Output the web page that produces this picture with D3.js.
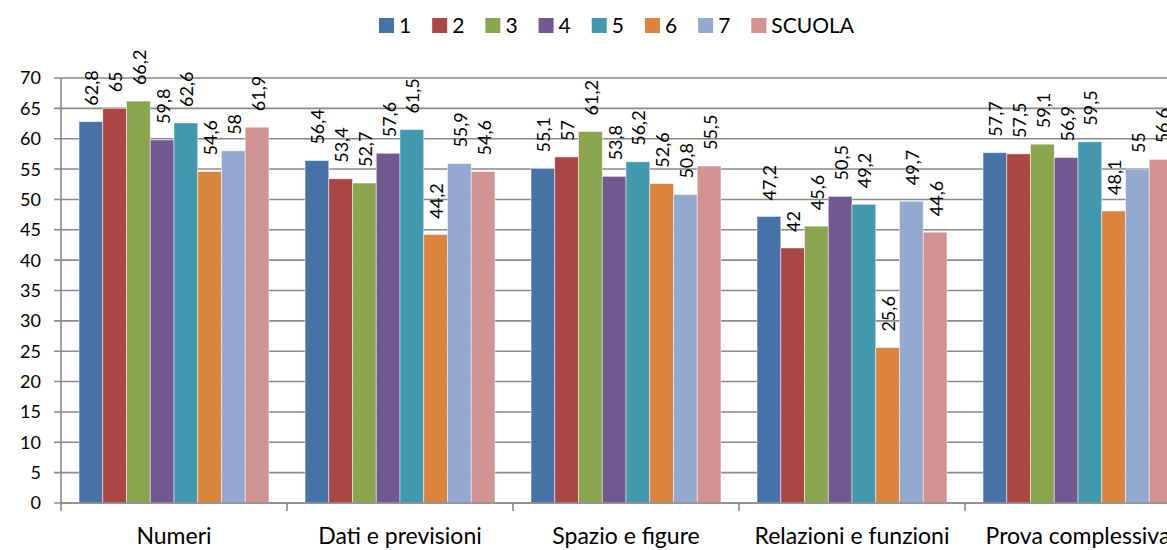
<!DOCTYPE html>
<html>
<head>
<meta charset="utf-8">
<script src="https://cdn.jsdelivr.net/npm/d3@7"></script>
<style>
    body { margin: 0; background: #fff; }
    svg text { font-family: Lato, "Open Sans", sans-serif; fill: #000; }
</style>
</head>
<body>
<div id="chart"></div>
<script>

// categories and series
let categories = ["Numeri", "Dati e previsioni", "Spazio e figure", "Relazioni e funzioni", "Prova complessiva"];
let seriesNames = ["1", "2", "3", "4", "5", "6", "7", "SCUOLA"];
let seriesColors = ["#4572A7", "#AA4643", "#89A54E", "#71588F", "#4198AF", "#DB843D", "#93A9CF", "#D19392"];

let s1 = [62.8, 56.4, 55.1, 47.2, 57.7];
let s2 = [65, 53.4, 57, 42, 57.5];
let s3 = [66.2, 52.7, 61.2, 45.6, 59.1];
let s4 = [59.8, 57.6, 53.8, 50.5, 56.9];
let s5 = [62.6, 61.5, 56.2, 49.2, 59.5];
let s6 = [54.6, 44.2, 52.6, 25.6, 48.1];
let s7 = [58, 55.9, 50.8, 49.7, 55];
let sScuola = [61.9, 54.6, 55.5, 44.6, 56.6];

let yTicks = [0, 5, 10, 15, 20, 25, 30, 35, 40, 45, 50, 55, 60, 65, 70];

let allSeries = [s1, s2, s3, s4, s5, s6, s7, sScuola];

// flat table built from the arrays above
let table = [];
categories.forEach((c, ci) => {
    seriesNames.forEach((s, si) => {
        table.push({cat: c, series: s, value: allSeries[si][ci], color: seriesColors[si]});
    });
});

let width = 1167, height = 550;
let margin = {top: 78, left: 61, bottom: 47};
let catStep = 226;

let svg = d3.select("#chart").append("svg")
    .attr("width", width)
    .attr("height", height);

let x0 = d3.scaleBand()
    .domain(categories)
    .range([margin.left, margin.left + catStep * categories.length])
    .padding(0);

let x1 = d3.scaleBand()
    .domain(seriesNames)
    .range([0, x0.bandwidth()])
    .paddingInner(0)
    .paddingOuter(0.76);

let y = d3.scaleLinear()
    .domain([0, 70])
    .range([height - margin.bottom, margin.top]);

// gridlines
svg.append("g")
    .selectAll("line")
    .data(yTicks)
    .enter().append("line")
    .attr("x1", margin.left - 7)
    .attr("x2", width)
    .attr("y1", d => y(d))
    .attr("y2", d => y(d))
    .attr("stroke", "#8a8a8a")
    .attr("stroke-width", 1.6);

// y axis labels
svg.append("g")
    .selectAll("text")
    .data(yTicks)
    .enter().append("text")
    .attr("x", 41)
    .attr("y", d => y(d))
    .attr("dy", "0.36em")
    .attr("text-anchor", "end")
    .style("font-size", "18px")
    .text(d => d);

// bars
svg.append("g")
    .selectAll("rect")
    .data(table)
    .enter().append("rect")
    .attr("x", d => x0(d.cat) + x1(d.series))
    .attr("y", d => y(d.value))
    .attr("width", x1.bandwidth())
    .attr("height", d => y(0) - y(d.value))
    .attr("fill", d => d.color)
    .attr("stroke", "#ffffff")
    .attr("stroke-opacity", 0.6)
    .attr("stroke-width", 0.8);

// value labels
svg.append("g")
    .selectAll("text")
    .data(table)
    .enter().append("text")
    .attr("transform", d => "translate(" + (x0(d.cat) + x1(d.series) + x1.bandwidth() / 2 + 1) + "," + (y(d.value) - 16) + ") rotate(-90)")
    .attr("dy", "0.36em")
    .attr("text-anchor", "start")
    .style("font-size", "18px")
    .text(d => String(d.value).replace(".", ","));

// y axis line
svg.append("line")
    .attr("x1", margin.left).attr("x2", margin.left)
    .attr("y1", y(70)).attr("y2", y(0))
    .attr("stroke", "#8a8a8a")
    .attr("stroke-width", 1.6);

// x axis line + ticks
svg.append("line")
    .attr("x1", margin.left).attr("x2", width)
    .attr("y1", y(0)).attr("y2", y(0))
    .attr("stroke", "#8a8a8a")
    .attr("stroke-width", 1.6);

let boundaries = categories.map(c => x0(c)).concat([x0(categories[categories.length - 1]) + x0.bandwidth()]);
svg.append("g")
    .selectAll("line")
    .data(boundaries)
    .enter().append("line")
    .attr("x1", d => d).attr("x2", d => d)
    .attr("y1", y(0)).attr("y2", y(0) + 8)
    .attr("stroke", "#8a8a8a")
    .attr("stroke-width", 1.6);

// category labels
svg.append("g")
    .selectAll("text")
    .data(categories)
    .enter().append("text")
    .attr("x", d => x0(d) + x0.bandwidth() / 2)
    .attr("y", 544)
    .attr("text-anchor", "middle")
    .style("font-size", "23px")
    .text(d => d);

// legend
let legend = svg.append("g").attr("class", "legend");
let lx = 379;
seriesNames.forEach((s, i) => {
    legend.append("rect")
        .attr("x", lx)
        .attr("y", 18)
        .attr("width", 15)
        .attr("height", 15)
        .attr("fill", seriesColors[i]);
    let t = legend.append("text")
        .attr("x", lx + 20)
        .attr("y", 25)
        .attr("dy", "0.36em")
        .style("font-size", "21px")
        .text(s);
    lx += 20 + t.node().getComputedTextLength() + 21;
});

</script>
</body>
</html>
